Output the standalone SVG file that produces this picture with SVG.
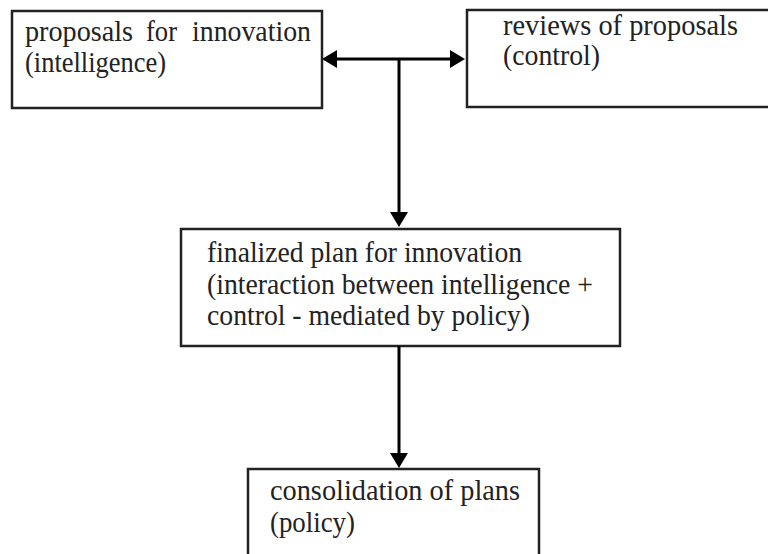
<svg xmlns="http://www.w3.org/2000/svg" width="768" height="554" viewBox="0 0 768 554">
<style>
.box{fill:#fff;stroke:#222;stroke-width:2.5}
.t{font-family:"Liberation Serif","Times New Roman",serif;font-size:29px;fill:#222}
.c{fill:none;stroke:#000;stroke-width:3}
</style>
<defs>
<marker id="ah" viewBox="0 0 15 18" refX="0" refY="9" markerWidth="15" markerHeight="18" markerUnits="userSpaceOnUse" orient="auto-start-reverse">
<path d="M0,0 L15,9 L0,18 z" fill="#000"/>
</marker>
</defs>
<rect width="768" height="554" fill="#fff"/>
<g id="proposals">
<rect class="box" x="12" y="11" width="310" height="97"/>
<text class="t" x="25" y="41" textLength="108" lengthAdjust="spacingAndGlyphs">proposals</text>
<text class="t" x="146" y="41" textLength="31" lengthAdjust="spacingAndGlyphs">for</text>
<text class="t" x="192" y="41" textLength="119" lengthAdjust="spacingAndGlyphs">innovation</text>
<text class="t" x="25" y="72" textLength="141" lengthAdjust="spacingAndGlyphs">(intelligence)</text>
</g>
<g id="reviews">
<rect class="box" x="467" y="10" width="310" height="97"/>
<text class="t" x="503" y="34.5" textLength="235" lengthAdjust="spacingAndGlyphs">reviews of proposals</text>
<text class="t" x="503" y="65" textLength="97" lengthAdjust="spacingAndGlyphs">(control)</text>
</g>
<g id="finalized">
<rect class="box" x="181" y="229" width="439" height="117"/>
<text class="t" x="207" y="262" textLength="315" lengthAdjust="spacingAndGlyphs">finalized plan for innovation</text>
<text class="t" x="207" y="293.5" textLength="386" lengthAdjust="spacingAndGlyphs">(interaction between intelligence +</text>
<text class="t" x="207" y="325" textLength="323" lengthAdjust="spacingAndGlyphs">control - mediated by policy)</text>
</g>
<g id="consolidation">
<rect class="box" x="248" y="469" width="291" height="100"/>
<text class="t" x="270" y="500" textLength="250" lengthAdjust="spacingAndGlyphs">consolidation of plans</text>
<text class="t" x="270" y="532" textLength="85" lengthAdjust="spacingAndGlyphs">(policy)</text>
</g>
<g id="connectors">
<path class="c" d="M337,59 H450" marker-start="url(#ah)" marker-end="url(#ah)"/>
<path class="c" d="M399,59 V212" marker-end="url(#ah)"/>
<path class="c" d="M399,346 V453" marker-end="url(#ah)"/>
</g>
</svg>
